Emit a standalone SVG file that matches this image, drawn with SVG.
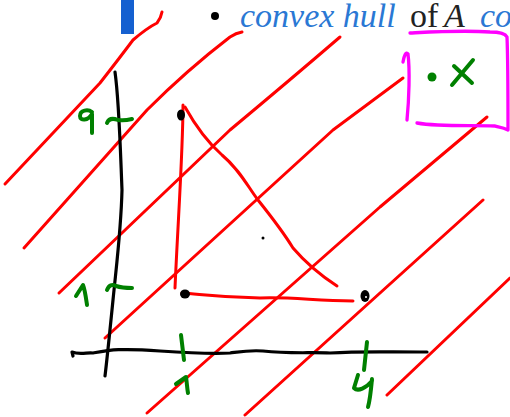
<svg xmlns="http://www.w3.org/2000/svg" width="510" height="417" viewBox="0 0 510 417">
<style>
.red{fill:none;stroke:#ff0000;stroke-width:3;stroke-linecap:round;stroke-linejoin:round}
.blk{fill:none;stroke:#000;stroke-width:3.2;stroke-linecap:round;stroke-linejoin:round}
.grn{fill:none;stroke:#008000;stroke-width:4;stroke-linecap:round;stroke-linejoin:round}
.pnk{fill:none;stroke:#ff00ff;stroke-width:3.3;stroke-linecap:round;stroke-linejoin:round}
.t{font-family:"Liberation Serif",serif;font-size:34px}
.it{font-style:italic}
.blue{fill:#2a78d4}
</style>
<rect width="510" height="417" fill="#fff"/>
<g id="header">
<rect x="121" y="0" width="13" height="34" fill="#1560d0"/>
<circle cx="215" cy="16" r="4" fill="#000"/>
<text class="t it blue" x="240" y="27">convex hull</text>
<text class="t" x="410" y="27" fill="#222">of</text>
<text class="t it" x="444" y="27" fill="#222">A</text>
<text class="t it blue" x="480" y="27">co</text>
</g>
<g id="hatching">
<path class="red" d="M5,184 L100,83 Q118,60 133,40 Q147,28 157,23 Q161,18 162,12"/>
<path class="red" d="M24,248 L147,110 Q187,70 230,37 Q236,33 242,32"/>
<path class="red" d="M59,293 L230,130 Q290,80 340,37"/>
<path class="red" d="M105,338 L333,130 L403,78"/>
<path class="red" d="M147,413 L380,207 L487,117"/>
<path class="red" d="M245,415 L380,293 L483,200"/>
<path class="red" d="M387,395 L510,278"/>
</g>
<g id="axes">
<path class="blk" d="M115,72 C119,100 120,140 122,190 C121,230 117,260 113,300 C110,330 107,360 105,376"/>
<path class="blk" d="M73,356 L72,352 C80,355 88,352 93,353 C110,350 120,348 160,351 C190,353 210,354 230,353 C245,351 250,350 263,351 C290,354 310,352 330,353 C360,351 380,352 427,352"/>
</g>
<g id="ticks">
<path class="grn" d="M107,123 C109,118 113,118 118,120 C124,121 128,120 132,119"/>
<path class="grn" d="M92,112 C88,109 80,110 80,116 C80,121 88,121 92,114 C92,120 92,127 92,133"/>
<path class="grn" d="M107,290 C109,285 112,284 116,286 C122,288 127,288 132,288"/>
<path class="grn" d="M76,296 L83,285 C85,290 86,298 87,305"/>
<path class="grn" d="M181,335 L184,360"/>
<path class="grn" d="M176,384 L186,377 C187,383 187,388 188,393"/>
<path class="grn" d="M367,342 L364,370"/>
<path class="grn" d="M358,375 L354,388 C358,392 366,388 372,381 M372,379 C371,390 370,400 368,407"/>
</g>
<g id="triangle">
<path class="red" d="M183,105 C183,150 178,220 175,288"/>
<path class="red" d="M185,107 C195,125 205,140 222,155 C240,170 248,187 258,200 C270,215 285,235 293,248 C305,262 320,275 337,286"/>
<path class="red" d="M182,293 C200,294 215,297 260,298 C290,297 310,300 353,301"/>
<ellipse cx="181" cy="115" rx="4" ry="5.5" fill="#000"/>
<ellipse cx="185" cy="294" rx="5" ry="4.5" fill="#000"/>
<ellipse cx="365" cy="296" rx="4.5" ry="6" fill="#000"/>
<circle cx="366" cy="297" r="1" fill="#fff"/>
<circle cx="263" cy="238" r="1.5" fill="#000"/>
</g>
<g id="box">
<path class="pnk" d="M410,33 C430,32 463,30 490,32 C498,32 505,33 507,37 C508,60 508,100 508,130 C502,127 497,127 495,126 C470,125 440,127 417,123"/>
<path class="pnk" d="M403,62 C404,56 406,51 408,54 C410,70 409,100 407,120"/>
<circle cx="432" cy="77" r="4.5" fill="#008000"/>
<path class="grn" d="M473,60 L452,85 M454,66 L472,83"/>
</g>
</svg>
